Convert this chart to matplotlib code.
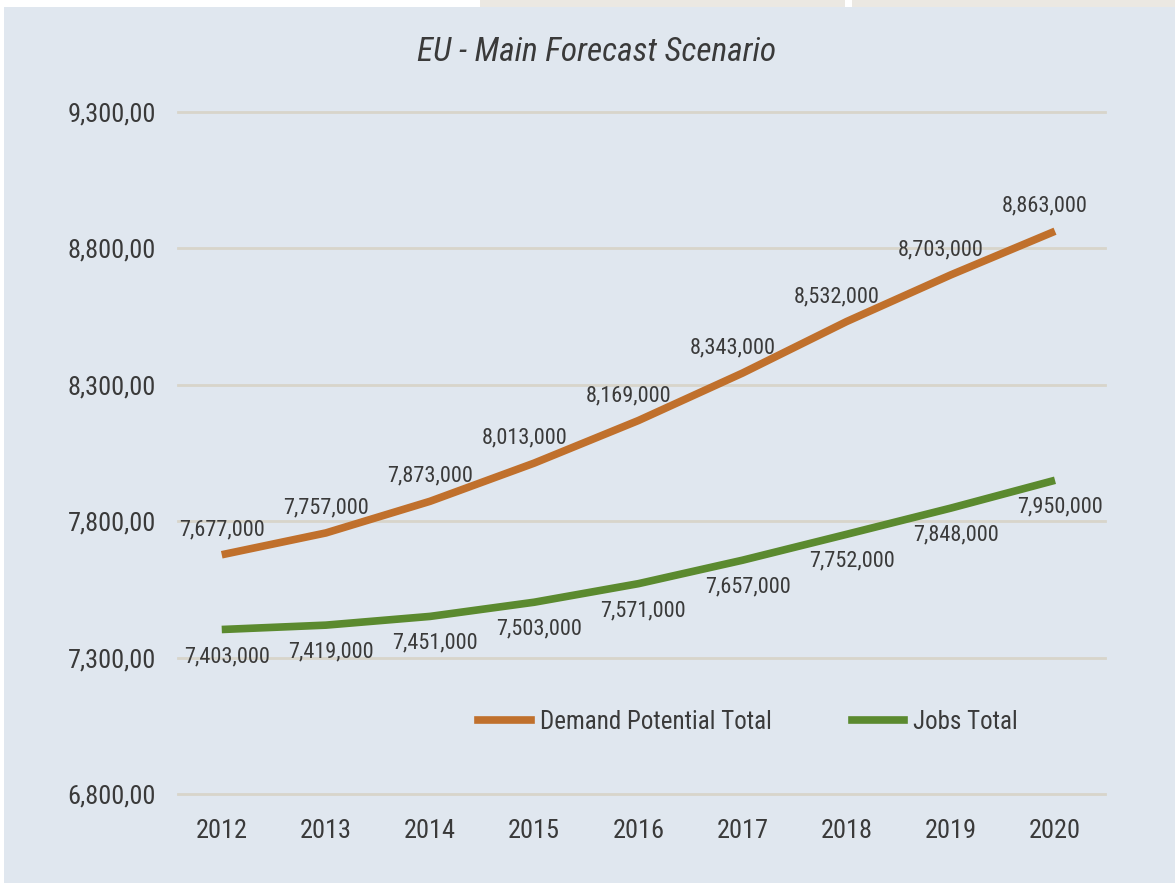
import matplotlib
matplotlib.use("Agg")
import matplotlib.pyplot as plt
from matplotlib.patches import Rectangle
from matplotlib.lines import Line2D
from matplotlib import font_manager

years = [2012, 2013, 2014, 2015, 2016, 2017, 2018, 2019, 2020]
demand_potential = [7677, 7757, 7873, 8013, 8169, 8343, 8532, 8703, 8863]
jobs_total = [7403, 7419, 7451, 7503, 7571, 7657, 7752, 7848, 7950]
y_ticks = [6800, 7300, 7800, 8300, 8800, 9300]
title = "EU - Main Forecast Scenario"
series_names = ["Demand Potential Total", "Jobs Total"]

avail = {f.name for f in font_manager.fontManager.ttflist}
FONT = "DejaVu Sans"
for cand in ["Liberation Sans Narrow", "Roboto Condensed", "Open Sans Condensed", "Lato"]:
    if cand in avail:
        FONT = cand
        break
plt.rcParams['font.family'] = [FONT, 'DejaVu Sans']

BG = "#e0e7ef"
ORANGE = "#c0702c"
GREEN = "#5b8a2f"
TXT = "#3a3a3a"
GRID = "#d8d5ca"

fig = plt.figure(figsize=(11.75, 8.83), dpi=100)
fig.patch.set_facecolor("white")
W, H = 1175, 883
def px(x0, y0, x1, y1):
    return (x0 / W, 1 - y1 / H), (x1 - x0) / W, (y1 - y0) / H
for (x0, y0, x1, y1, c) in [(4, 7, 1175, 883, BG), (480, 0, 845, 7, "#ebe8e2"), (852, 0, 1175, 7, "#ebe8e2")]:
    xy, w, h = px(x0, y0, x1, y1)
    fig.add_artist(Rectangle(xy, w, h, transform=fig.transFigure, facecolor=c, edgecolor="none", zorder=-10))

ax = fig.add_axes([178 / W, 1 - 794 / H, (1105 - 178) / W, (794 - 112) / H])
ax.set_facecolor("none")
for s in ax.spines.values():
    s.set_visible(False)
ax.set_ylim(6800, 9300)
ax.set_xlim(2011.58, 2020.48)
ax.set_yticks(y_ticks)
ax.set_yticklabels([f"{v:,.0f},00" for v in y_ticks])
ax.set_xticks(years)
ax.set_xticklabels([str(y) for y in years])
ax.tick_params(axis='both', length=0, labelsize=19, colors=TXT)
ax.tick_params(axis='y', pad=16)
ax.tick_params(axis='x', pad=18)
ax.grid(axis='y', color=GRID, linewidth=2)
for gl in ax.get_ygridlines():
    gl.set_clip_on(False)
ax.set_axisbelow(True)

ax.plot(years, demand_potential, color=ORANGE, linewidth=5.5, solid_capstyle='butt', solid_joinstyle='round')
ax.plot(years, jobs_total, color=GREEN, linewidth=5.5, solid_capstyle='butt', solid_joinstyle='round')

for i, (x, v) in enumerate(zip(years, demand_potential)):
    dx = 0 if i < 3 else -10
    ax.annotate(f"{v * 1000:,}", (x, v), xytext=(dx, 25), textcoords='offset pixels',
                ha='center', va='center', fontsize=16, color=TXT)
for x, v in zip(years, jobs_total):
    ax.annotate(f"{v * 1000:,}", (x, v), xytext=(5, -27), textcoords='offset pixels',
                ha='center', va='center', fontsize=16, color=TXT)

fig.text(597 / W, 1 - 52 / H, title, ha='center', va='center', fontsize=24,
         style='italic', color=TXT)

handles = [Line2D([], [], color=ORANGE, linewidth=5.5), Line2D([], [], color=GREEN, linewidth=5.5)]
leg = ax.legend(handles, series_names, loc='center', bbox_to_anchor=((748 - 178) / 927, (794 - 722) / 682), ncol=2,
                frameon=False, fontsize=18, handlelength=2.1, columnspacing=3.2, handletextpad=0.35)
for t in leg.get_texts():
    t.set_color(TXT)

fig.savefig("out.png", dpi=100, facecolor=fig.get_facecolor())
